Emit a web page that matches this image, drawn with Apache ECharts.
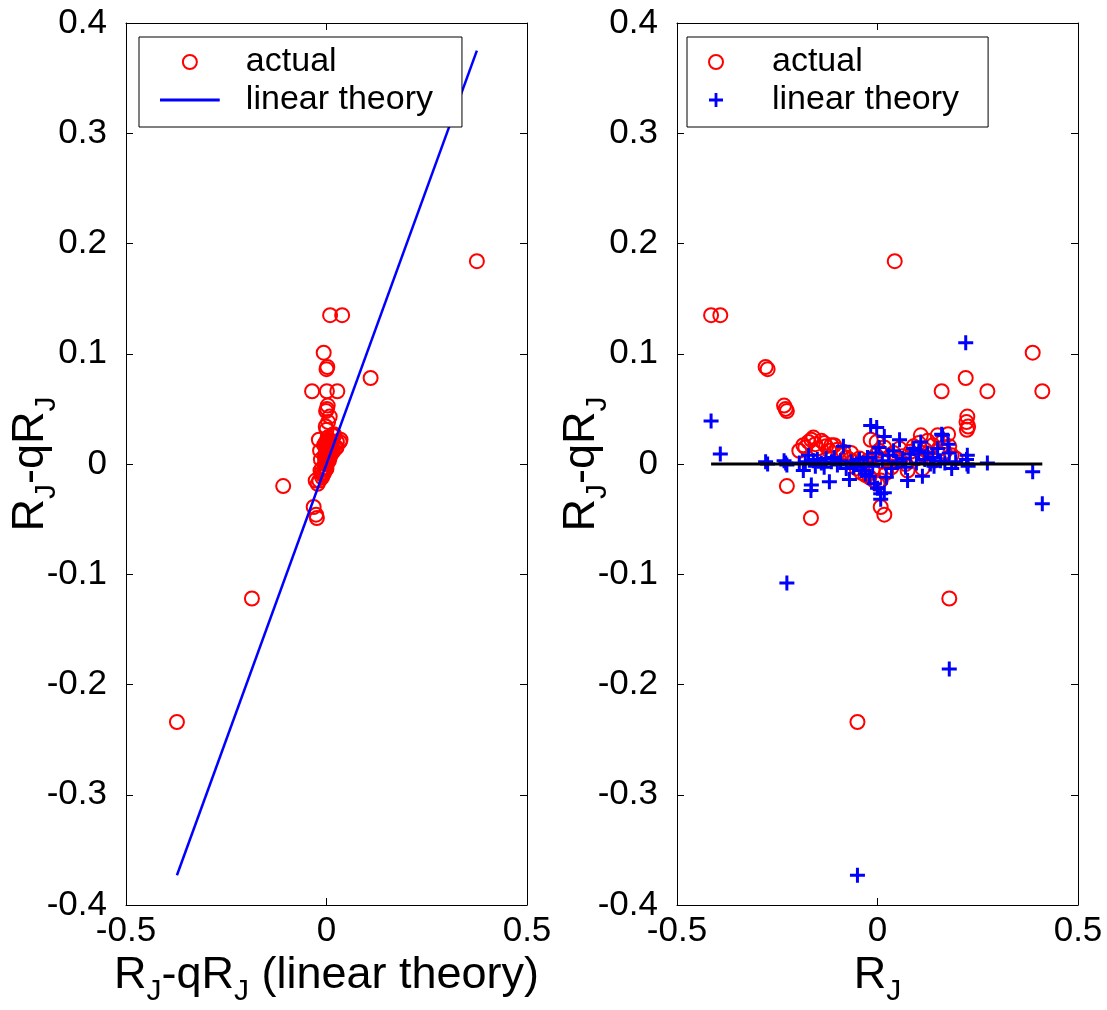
<!DOCTYPE html>
<html><head><meta charset="utf-8">
<script src="https://cdn.jsdelivr.net/npm/echarts@6/dist/echarts.min.js"></script>
<style>html,body{margin:0;padding:0;background:#fff}#c{width:1107px;height:1010px}</style>
</head><body><div id="c"></div>
<script>
// tick labels
const xTicks = [-0.5, 0, 0.5];
const yTicks = [-0.4, -0.3, -0.2, -0.1, 0, 0.1, 0.2, 0.3, 0.4];
// per-point values: R_J, actual (R_J-qR_J), linear theory (R_J-qR_J)
const rj = [
  -0.415, -0.392, -0.279, -0.274, -0.233, -0.229, -0.226, -0.226, -0.166, 0.008,
  0.017, -0.050, 0.043, 0.179, 0.220, 0.387, 0.411, 0.160, 0.274, 0.224,
  0.222, 0.226, 0.223, -0.002,
  -0.195, -0.185, -0.180, -0.172, -0.165, -0.160, -0.155, -0.150, -0.140, -0.133,
  -0.128, -0.120, -0.115, -0.108, -0.100, -0.092, -0.085, -0.078, -0.070, -0.066,
  -0.060, -0.052, -0.045, -0.040, -0.035, -0.030, -0.025, -0.020, -0.017, -0.012,
  -0.008, -0.004, 0.000, 0.004, 0.008, 0.012, 0.017, 0.022, 0.028, 0.035,
  0.040, 0.048, 0.055, 0.062, 0.070, 0.075, 0.082, 0.090, 0.097, 0.103,
  0.108, 0.112, 0.118, 0.125, 0.132, 0.138, 0.141, 0.150, 0.157, 0.162,
  0.168, 0.176, 0.179, 0.185, 0.195
];
const actual = [
  0.135, 0.135, 0.088, 0.086, 0.053, 0.050, 0.048, -0.020, -0.049, -0.039,
  -0.046, -0.234, 0.184, -0.122, 0.078, 0.101, 0.066, 0.066, 0.066, 0.043,
  0.038, 0.034, 0.031, 0.020,
  0.012, 0.017, 0.015, 0.020, 0.022, 0.024, 0.018, 0.014, 0.021, 0.019,
  0.016, 0.012, 0.017, 0.017, 0.013, 0.008, 0.011, 0.006, 0.004, 0.010,
  0.002, -0.004, 0.005, -0.008, 0.000, -0.010, 0.003, -0.012, 0.022, -0.005,
  -0.015, 0.008, -0.018, 0.012, -0.015, 0.002, 0.015, -0.008, 0.006, -0.003,
  0.010, 0.004, 0.014, 0.007, 0.000, -0.006, 0.011, 0.016, 0.005, 0.019,
  0.026, -0.004, 0.013, 0.021, 0.009, 0.017, 0.003, 0.026, 0.014, 0.020,
  0.011, 0.027, 0.016, 0.008, 0.005
];
const linearTheory = [
  0.039, 0.009, 0.002, 0.000, 0.003, 0.001, -0.001, -0.108, -0.024, -0.032,
  -0.026, -0.373, 0.375, -0.186, 0.110, -0.007, -0.036, 0.027, 0.001, 0.008,
  0.004, -0.002, 0.000, 0.033,
  0.001, -0.006, 0.002, 0.008, -0.019, 0.003, -0.002, 0.004, 0.001, -0.003,
  0.005, -0.016, 0.002, 0.006, -0.001, 0.003, 0.016, -0.004, -0.014, 0.002,
  -0.003, 0.000, 0.004, -0.006, 0.001, -0.009, 0.006, -0.011, 0.035, -0.002,
  -0.018, 0.010, -0.022, 0.015, -0.027, 0.003, 0.025, -0.012, 0.008, -0.004,
  0.012, 0.002, 0.022, 0.005, -0.003, -0.015, 0.009, 0.014, 0.001, 0.012,
  0.020, -0.011, 0.004, 0.010, 0.000, 0.006, -0.002, 0.014, 0.003, 0.026,
  0.001, 0.018, 0.010, -0.004, 0.002
];

const fam = '"Liberation Sans", Arial, Helvetica, sans-serif';
const tickFont = 35;
const nameRich = {
  a: { fontSize: 45, fontFamily: fam, color: '#000', lineHeight: 50 },
  b: { fontSize: 30, fontFamily: fam, color: '#000', lineHeight: 50, padding: [32, 0, 0, 0] }
};
const xMin = xTicks[0], xMax = xTicks[xTicks.length - 1], xInt = xTicks[1] - xTicks[0];
const yMin = yTicks[0], yMax = yTicks[yTicks.length - 1], yInt = 0.1;

function axis(o) {
  return Object.assign({
    type: 'value',
    axisLine: { show: true, onZero: false, lineStyle: { color: '#000', width: 1 } },
    axisTick: { show: true, inside: true, length: 7, lineStyle: { color: '#000', width: 1 } },
    splitLine: { show: false },
    axisLabel: { show: false },
    nameMoveOverlap: false
  }, o);
}
function xa(grid, pos, labels, name) {
  const a = axis({ gridIndex: grid, position: pos, min: xMin, max: xMax, interval: xInt });
  if (labels) {
    a.axisLabel = { show: true, fontSize: tickFont, fontFamily: fam, color: '#000', margin: 9 };
    a.name = name; a.nameLocation = 'middle'; a.nameGap = 46;
    a.nameTextStyle = { rich: nameRich };
  }
  return a;
}
function ya(grid, pos, labels, name, gap) {
  const a = axis({ gridIndex: grid, position: pos, min: yMin, max: yMax, interval: yInt });
  if (labels) {
    a.axisLabel = { show: true, fontSize: tickFont, fontFamily: fam, color: '#000', margin: 19 };
    a.name = name; a.nameLocation = 'middle'; a.nameGap = gap; a.nameRotate = 90;
    a.nameTextStyle = { rich: nameRich };
  }
  return a;
}

const leftPts = linearTheory.map((v, i) => [v, actual[i]]);
const rightActual = rj.map((v, i) => [v, actual[i]]);
const rightLinear = rj.map((v, i) => [v, linearTheory[i]]);
const linLo = Math.min(...linearTheory), linHi = Math.max(...linearTheory);
const rjLo = Math.min(...rj), rjHi = Math.max(...rj);
const plusPath = 'path://M6,0H9V6H15V9H9V15H6V9H0V6H6Z';
const lineIcon = 'path://M0,0L0.001,0L0,0.001Z M0,6H64V9H0Z M64,15L63.999,15L64,14.999Z';
const circleStyle = { color: 'rgba(0,0,0,0)', borderColor: '#ff0000', borderWidth: 2, opacity: 1 };

const legendBase = {
  orient: 'vertical', top: 37, padding: [6, 29, 8, 21], itemWidth: 64, itemHeight: 14, itemGap: 0,
  backgroundColor: '#fff', borderColor: '#000', borderWidth: 1, selectedMode: false,
  textStyle: { fontSize: 34, fontFamily: fam, color: '#000', lineHeight: 38, padding: [0, 0, 0, 19] }
};
const nameMap = { actual2: 'actual', linear2: 'linear theory' };

const option = {
  animation: false,
  backgroundColor: '#fff',
  grid: [
    { left: 126, top: 23, width: 401, height: 882, containLabel: false, outerBoundsMode: 'none' },
    { left: 677, top: 23, width: 401, height: 882, containLabel: false, outerBoundsMode: 'none' }
  ],
  xAxis: [
    xa(0, 'bottom', true, '{a|R}{b|J}{a|-qR}{b|J}{a| (linear theory)}'),
    xa(0, 'top', false),
    xa(1, 'bottom', true, '{a|R}{b|J}'),
    xa(1, 'top', false)
  ],
  yAxis: [
    ya(0, 'left', true, '{a|R}{b|J}{a|-qR}{b|J}', 70),
    ya(0, 'right', false),
    ya(1, 'left', true, '{a|R}{b|J}{a|-qR}{b|J}', 70),
    ya(1, 'right', false)
  ],
  legend: [
    Object.assign({}, legendBase, { left: 139, data: ['actual', { name: 'linear theory', icon: lineIcon }] }),
    Object.assign({}, legendBase, { left: 687, data: ['actual2', 'linear2'], formatter: n => nameMap[n] })
  ],
  series: [
    { type: 'scatter', name: 'actual', xAxisIndex: 0, yAxisIndex: 0, data: leftPts,
      symbol: 'circle', symbolSize: 14, itemStyle: circleStyle, silent: true, z: 2 },
    { type: 'line', name: 'linear theory', xAxisIndex: 0, yAxisIndex: 0,
      data: [[linLo, linLo], [linHi, linHi]], symbol: 'none',
      lineStyle: { color: '#0000ff', width: 2.5 }, itemStyle: { color: '#0000ff' }, silent: true, z: 3 },
    { type: 'scatter', name: 'actual2', xAxisIndex: 2, yAxisIndex: 2, data: rightActual,
      symbol: 'circle', symbolSize: 14, itemStyle: circleStyle, silent: true, z: 2 },
    { type: 'scatter', name: 'linear2', xAxisIndex: 2, yAxisIndex: 2, data: rightLinear,
      symbol: plusPath, symbolSize: 15, itemStyle: { color: '#0000ff', opacity: 1 }, silent: true, z: 3 },
    { type: 'line', name: 'zero', xAxisIndex: 2, yAxisIndex: 2,
      data: [[rjLo, 0], [rjHi, 0]], symbol: 'none',
      lineStyle: { color: '#000', width: 3 }, itemStyle: { color: '#000' }, silent: true, z: 4 }
  ]
};
const chart = echarts.init(document.getElementById('c'), null, { renderer: 'canvas' });
chart.setOption(option);
</script>
</body></html>
